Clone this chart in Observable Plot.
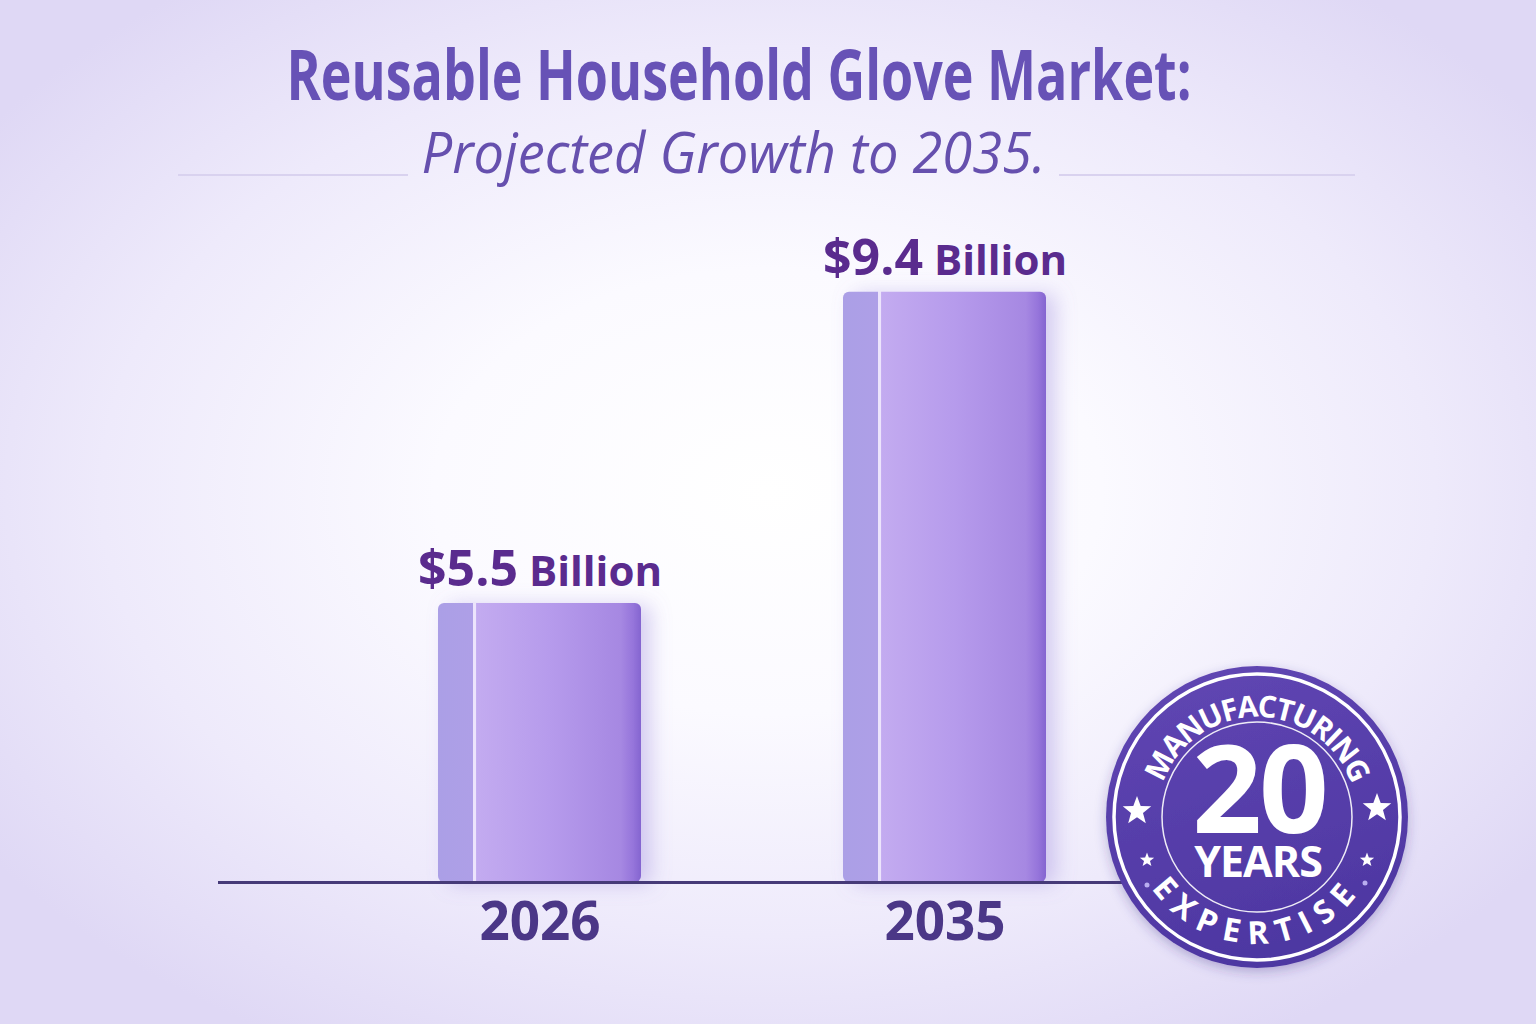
<!DOCTYPE html>
<html>
<head>
<meta charset="utf-8">
<script src="https://cdn.jsdelivr.net/npm/d3@7"></script>
<script src="https://cdn.jsdelivr.net/npm/@observablehq/plot@0.6"></script>
<style>
  html, body { margin: 0; padding: 0; }
  body { width: 1536px; height: 1024px; overflow: hidden; font-family: "Open Sans", sans-serif; }
  #page {
    position: relative; width: 1536px; height: 1024px;
    background: radial-gradient(ellipse 62% 62% at 50% 48%, #ffffff 0%, #fbfaff 35%, #eeeafb 70%, #dfd8f5 100%);
  }
  #header { position: absolute; left: 0; top: 0; width: 1536px; height: 210px; }
  .ttl { position: absolute; white-space: nowrap; line-height: 1; transform-origin: center center; }
  #title { font-weight: 700; font-size: 70px; color: #6752b6; top: 38px; }
  #subtitle { font-style: italic; font-weight: 400; font-size: 56px; color: #6650ae; top: 123px; }
  .rule { position: absolute; height: 2px; background: #d9d2ef; top: 174px; }
  #chart { position: absolute; left: 0; top: 210px; }
  #chart svg { overflow: visible; }
</style>
</head>
<body>
<div id="page">
  <div id="header">
    <div id="title" class="ttl">Reusable Household Glove Market:</div>
    <div id="subtitle" class="ttl">Projected Growth to 2035.</div>
    <div class="rule" style="left:178px;width:230px"></div>
    <div class="rule" style="left:1059px;width:296px"></div>
  </div>
  <div id="chart"></div>
</div>
<script>
const years = ["2026", "2035"];
const values = [5.5, 9.4];
const valueLabels = ["$5.5 Billion", "$9.4 Billion"];
const badgeTop = "MANUFACTURING";
const badgeBottom = "EXPERTISE";
const badgeNumber = "20";
const badgeUnit = "YEARS";

const data = years.map((y, i) => ({year: y, value: values[i], label: valueLabels[i]}));

// fit header texts to measured widths
function fit(id, targetWidth, centerX) {
  const el = document.getElementById(id);
  const w = el.getBoundingClientRect().width;
  const s = targetWidth / w;
  el.style.left = (centerX - w / 2) + "px";
  el.style.transform = `scaleX(${s})`;
}
fit("title", 905, 739.5);
fit("subtitle", 624, 733);

const chart = Plot.plot({
  width: 1536,
  height: 814,
  marginLeft: 235,
  marginRight: 287,
  marginTop: 34,
  marginBottom: 142,
  style: {fontFamily: "Open Sans, sans-serif", background: "transparent", overflow: "visible"},
  x: {domain: years, padding: 0.5, label: null, axis: null},
  y: {domain: [2, 10], axis: null, clamp: true},
  marks: [
    Plot.barY(data, {x: "year", y: "value", fill: "url(#barGrad)", rx: 6, className: "bars"}),
    Plot.ruleY([2], {stroke: "#463a78", strokeWidth: 3, insetLeft: -17}),
    Plot.text(data, {x: "year", y: "value", text: "label", dy: -17, lineAnchor: "bottom",
      fill: "#5a2b8e", fontWeight: 700, fontSize: 48, className: "vlabels"}),
    Plot.axisX({tickSize: 0, tickPadding: 20, fontSize: 53, fontWeight: 700, fill: "#4b3787", label: null})
  ]
});
document.getElementById("chart").appendChild(chart);

const svg = d3.select(chart);
const defs = svg.insert("defs", ":first-child");
const g = defs.append("linearGradient").attr("id", "barGrad").attr("x1", 0).attr("x2", 1).attr("y1", 0).attr("y2", 0);
[[0, "#ab9fe6"], [0.17, "#ae9fe7"], [0.172, "#ece4fc"], [0.185, "#ece4fc"], [0.19, "#c3abf0"],
 [0.55, "#b69bec"], [0.9, "#a688e2"], [0.96, "#9675db"], [1, "#8465d0"]].forEach(([o, c]) =>
  g.append("stop").attr("offset", o).attr("stop-color", c));
const f = defs.append("filter").attr("id", "barShadow").attr("x", "-20%").attr("y", "-10%").attr("width", "150%").attr("height", "120%");
f.append("feDropShadow").attr("dx", 10).attr("dy", 2).attr("stdDeviation", 10).attr("flood-color", "#8f7ad6").attr("flood-opacity", 0.35);
svg.selectAll(".bars rect").attr("filter", "url(#barShadow)");

// value labels: larger figure, smaller unit
svg.selectAll(".vlabels text").each(function() {
  const t = d3.select(this);
  const s = t.text();
  const i = s.indexOf(" ");
  t.text(null);
  t.append("tspan").attr("font-size", 50).text(s.slice(0, i));
  t.append("tspan").attr("font-size", 42).text(s.slice(i));
});

// badge
const cx = 1257, cy = 607;
const bg = defs.append("linearGradient").attr("id", "badgeGrad").attr("x1", 0).attr("y1", 0).attr("x2", 0.3).attr("y2", 1);
bg.append("stop").attr("offset", 0).attr("stop-color", "#6147b4");
bg.append("stop").attr("offset", 1).attr("stop-color", "#4e37a2");
const bf = defs.append("filter").attr("id", "badgeShadow").attr("x", "-20%").attr("y", "-20%").attr("width", "140%").attr("height", "140%");
bf.append("feDropShadow").attr("dx", 0).attr("dy", 4).attr("stdDeviation", 6).attr("flood-color", "#3a2a80").attr("flood-opacity", 0.3);

const badge = svg.append("g").attr("class", "badge");
badge.append("circle").attr("cx", cx).attr("cy", cy).attr("r", 151).attr("fill", "url(#badgeGrad)").attr("filter", "url(#badgeShadow)");
badge.append("circle").attr("cx", cx).attr("cy", cy).attr("r", 143).attr("fill", "none").attr("stroke", "#ffffff").attr("stroke-width", 3.5);
badge.append("circle").attr("cx", cx).attr("cy", cy).attr("r", 95).attr("fill", "none").attr("stroke", "#ffffff").attr("stroke-width", 1.5).attr("opacity", 0.9);

const rt = 100, rb = 127;
defs.append("path").attr("id", "arcTop").attr("d", `M${cx - rt},${cy} A${rt},${rt} 0 0 1 ${cx + rt},${cy}`);
defs.append("path").attr("id", "arcBot").attr("d", `M${cx - rb},${cy} A${rb},${rb} 0 0 0 ${cx + rb},${cy}`);

function arcText(href, str, targetLen, size) {
  const t = badge.append("text").attr("fill", "#fff").attr("font-size", size).attr("font-weight", 700)
    .attr("font-family", "Open Sans, sans-serif");
  const tp = t.append("textPath").attr("href", href).attr("startOffset", "50%").attr("text-anchor", "middle").text(str);
  const nat = t.node().getComputedTextLength();
  const ls = (targetLen - nat) / str.length;
  t.attr("letter-spacing", ls);
  tp.attr("dx", ls / 2);
}
arcText("#arcTop", badgeTop, 140 * Math.PI / 180 * rt, 30);
arcText("#arcBot", badgeBottom, 112 * Math.PI / 180 * rb, 32);

const center = badge.append("text").attr("text-anchor", "middle").attr("fill", "#fff").attr("font-weight", 700);
center.append("tspan").attr("x", cx + 2).attr("y", cy + 16).attr("font-size", 122).attr("letter-spacing", -3).text(badgeNumber);
center.append("tspan").attr("x", cx + 1).attr("y", cy + 60).attr("font-size", 43).attr("letter-spacing", -1).text(badgeUnit);

function star(x, y, R) {
  const pts = [];
  for (let k = 0; k < 10; k++) {
    const a = -Math.PI / 2 + k * Math.PI / 5;
    const r = k % 2 ? R * 0.42 : R;
    pts.push([x + r * Math.cos(a), y + r * Math.sin(a)]);
  }
  return "M" + pts.map(p => p.join(",")).join("L") + "Z";
}
[[cx - 120, cy - 6, 15], [cx + 120, cy - 9, 15], [cx - 110, cy + 43, 7.5], [cx + 110, cy + 43, 7.5]].forEach(([x, y, R]) =>
  badge.append("path").attr("d", star(x, y, R)).attr("fill", "#fff"));
[[cx - 110, cy + 68], [cx + 108, cy + 66]].forEach(([x, y]) =>
  badge.append("circle").attr("cx", x).attr("cy", y).attr("r", 2.5).attr("fill", "#b9aef0"));
</script>
</body>
</html>
